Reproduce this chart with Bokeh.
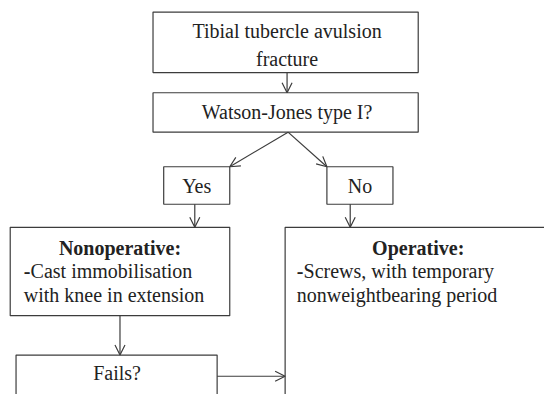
from bokeh.plotting import figure
from bokeh.models import Range1d, Arrow, OpenHead, ColumnDataSource
from bokeh.core.properties import value
from bokeh.embed import file_html
from bokeh.resources import INLINE

# --- content ---
node_names = ["start", "watson", "yes", "no", "nonop", "op", "fails"]
node_lines = [
    ["Tibial tubercle avulsion", "fracture"],
    ["Watson-Jones type I?"],
    ["Yes"],
    ["No"],
    ["Nonoperative:", "-Cast immobilisation", "with knee in extension"],
    ["Operative:", "-Screws, with temporary", "nonweightbearing period"],
    ["Fails?"],
]
edges = [("start", "watson"), ("watson", "yes"), ("watson", "no"),
         ("yes", "nonop"), ("no", "op"), ("nonop", "fails"), ("fails", "op")]

# --- layout (reference pixel coordinates, 560 x 410 frame) ---
box_left   = [157, 157, 168, 336,  10, 293,  16]
box_right  = [430, 430, 236, 404, 236, 800, 223]
box_top    = [ 12,  96, 173, 173, 236, 236, 369]
box_bottom = [ 75, 137, 212, 212, 328, 800, 800]

LINE = "#3c3c3c"
FONT = value("'Liberation Serif', 'Times New Roman', Times, serif")
FS = "20px"

p = figure(width=544, height=394, output_backend="svg", toolbar_location=None,
           x_range=Range1d(0, 560), y_range=Range1d(410, 0), min_border=0)
p.axis.visible = False
p.grid.visible = False
p.outline_line_color = None
p.background_fill_color = "white"
p.border_fill_color = "white"

p.quad(left=box_left, right=box_right, top=box_top, bottom=box_bottom,
       fill_color=None, line_color=LINE, line_width=1.2)

tx, ty, tt, ta = [], [], [], []
bx, by, bt = [], [], []
dx, dy = [], []
idx = {n: i for i, n in enumerate(node_names)}

def center(i):
    return (box_left[i] + box_right[i]) / 2

i = idx["start"]
tx += [295, 295]; ty += [32, 61]; tt += node_lines[i]; ta += ["center", "center"]
i = idx["watson"]
tx += [295]; ty += [116]; tt += node_lines[i]; ta += ["center"]
i = idx["yes"]
tx += [center(i)]; ty += [193]; tt += node_lines[i]; ta += ["center"]
i = idx["no"]
tx += [center(i)]; ty += [193]; tt += node_lines[i]; ta += ["center"]
i = idx["fails"]
tx += [120]; ty += [388]; tt += node_lines[i]; ta += ["center"]

for name, cx, lx in [("nonop", 123, 24), ("op", 430, 305)]:
    i = idx[name]
    title, l1, l2 = node_lines[i]
    bx.append(cx); by.append(258); bt.append(title)
    dx.append(lx); dy.append(281)
    tx += [lx + 7, lx]; ty += [281, 306]; tt += [l1[1:], l2]; ta += ["left", "left"]

src = ColumnDataSource(dict(x=tx, y=ty, text=tt, align=ta))
p.text(x="x", y="y", text="text", source=src, text_align="align",
       text_baseline="middle", text_font=FONT, text_font_size=FS,
       text_color="#222222")
p.text(x=bx, y=by, text=bt, text_align="center", text_baseline="middle",
       text_font=FONT, text_font_size=FS, text_font_style="bold",
       text_color="#222222")
p.text(x=dx, y=dy, text=["-"] * len(dx), text_align="left", text_baseline="middle",
       text_font=FONT, text_font_size=FS, text_font_style="bold",
       text_color="#222222")

pts = {
    ("start", "watson"): ((295, 75), (295, 96)),
    ("watson", "yes"): ((296, 137), (236, 173)),
    ("watson", "no"): ((296, 137), (336, 173)),
    ("yes", "nonop"): ((200, 212), (200, 236)),
    ("no", "op"): ((360, 212), (360, 236)),
    ("nonop", "fails"): ((123, 328), (123, 369)),
    ("fails", "op"): ((223, 391), (293, 391)),
}
for e in edges:
    (x0, y0), (x1, y1) = pts[e]
    p.add_layout(Arrow(end=OpenHead(size=10, line_color=LINE, line_width=1.2),
                       x_start=x0, y_start=y0, x_end=x1, y_end=y1,
                       line_color=LINE, line_width=1.2))

open("out.html", "w").write(file_html(p, INLINE))
